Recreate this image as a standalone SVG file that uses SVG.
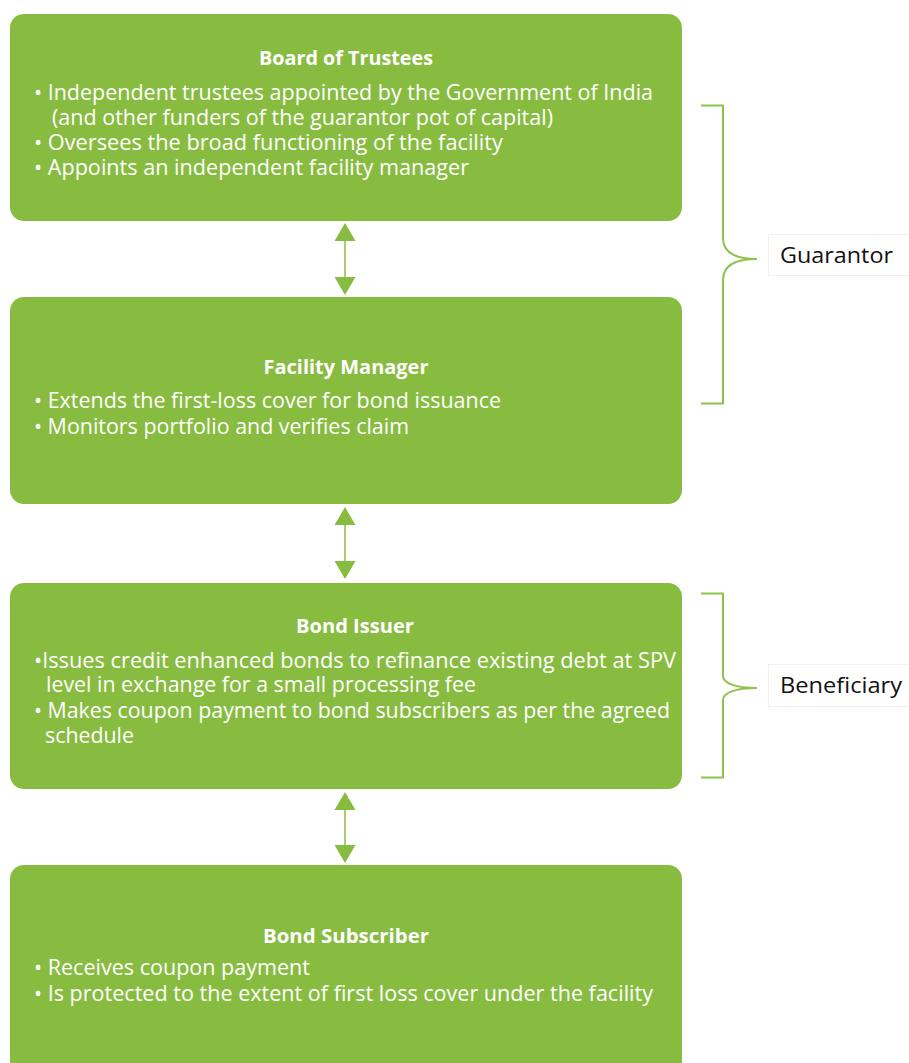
<svg xmlns="http://www.w3.org/2000/svg" width="909" height="1063" viewBox="0 0 909 1063">
<defs>
<style>
.box{fill:#88bc41}
.t{font-family:"Open Sans","Noto Sans",sans-serif;fill:#ffffff}
.ti{font-size:19px;font-weight:700;text-anchor:middle}
.b{font-size:22px}
#connectors line{stroke:#a3d06c;stroke-width:2}
.head{fill:#88bc41}
.br{fill:none;stroke:#8cc34a;stroke-width:2}
.lb{fill:#ffffff;stroke:#f0f0f0;stroke-width:1}
.lt{font-family:"Open Sans","Noto Sans",sans-serif;font-size:22px;fill:#111111}
</style>
</defs>
<rect width="909" height="1063" fill="#ffffff"/>

<g id="board">
<rect class="box" x="10" y="14" width="672" height="207" rx="14"/>
<text class="t ti" x="346" y="65" textLength="174" lengthAdjust="spacingAndGlyphs">Board of Trustees</text>
<text class="t b" x="34" y="100" textLength="619" lengthAdjust="spacingAndGlyphs">• Independent trustees appointed by the Government of India</text>
<text class="t b" x="52" y="125" textLength="501" lengthAdjust="spacingAndGlyphs">(and other funders of the guarantor pot of capital)</text>
<text class="t b" x="34" y="150" textLength="469" lengthAdjust="spacingAndGlyphs">• Oversees the broad functioning of the facility</text>
<text class="t b" x="34" y="175" textLength="435" lengthAdjust="spacingAndGlyphs">• Appoints an independent facility manager</text>
</g>

<g id="manager">
<rect class="box" x="10" y="297" width="672" height="207" rx="14"/>
<text class="t ti" x="346" y="374" textLength="165" lengthAdjust="spacingAndGlyphs">Facility Manager</text>
<text class="t b" x="34" y="408" textLength="467" lengthAdjust="spacingAndGlyphs">• Extends the first-loss cover for bond issuance</text>
<text class="t b" x="34" y="434" textLength="375" lengthAdjust="spacingAndGlyphs">• Monitors portfolio and verifies claim</text>
</g>

<g id="issuer">
<rect class="box" x="10" y="583" width="672" height="206" rx="14"/>
<text class="t ti" x="355" y="633" textLength="118" lengthAdjust="spacingAndGlyphs">Bond Issuer</text>
<text class="t b" x="34" y="668" textLength="642" lengthAdjust="spacingAndGlyphs">•Issues credit enhanced bonds to refinance existing debt at SPV</text>
<text class="t b" x="46" y="692" textLength="430" lengthAdjust="spacingAndGlyphs">level in exchange for a small processing fee</text>
<text class="t b" x="34" y="718" textLength="636" lengthAdjust="spacingAndGlyphs">• Makes coupon payment to bond subscribers as per the agreed</text>
<text class="t b" x="45" y="743" textLength="89" lengthAdjust="spacingAndGlyphs">schedule</text>
</g>

<g id="subscriber">
<rect class="box" x="10" y="865" width="672" height="210" rx="14"/>
<text class="t ti" x="346" y="943" textLength="166" lengthAdjust="spacingAndGlyphs">Bond Subscriber</text>
<text class="t b" x="34" y="975" textLength="276" lengthAdjust="spacingAndGlyphs">• Receives coupon payment</text>
<text class="t b" x="34" y="1001" textLength="619" lengthAdjust="spacingAndGlyphs">• Is protected to the extent of first loss cover under the facility</text>
</g>

<g id="connectors">
<line x1="345" y1="240" x2="345" y2="278"/>
<polygon class="head" points="345,223 355.5,241 334.5,241"/>
<polygon class="head" points="345,295 355.5,277 334.5,277"/>
<line x1="345" y1="524" x2="345" y2="562"/>
<polygon class="head" points="345,507 355.5,525 334.5,525"/>
<polygon class="head" points="345,579 355.5,561 334.5,561"/>
<line x1="345" y1="809" x2="345" y2="847"/>
<polygon class="head" points="345,792 355.5,810 334.5,810"/>
<polygon class="head" points="345,863 355.5,845 334.5,845"/>
</g>

<g id="guarantor">
<path class="br" d="M701,105.5 H723 V238 C723,252 735,259 757,259 C735,259 723,266 723,280 V403.5 H701"/>
<rect class="lb" x="768.5" y="234.5" width="145" height="41"/>
<text class="lt" x="780" y="263" textLength="113" lengthAdjust="spacingAndGlyphs">Guarantor</text>
</g>

<g id="beneficiary">
<path class="br" d="M701,593.5 H723 V676 C723,683 735,688 757,688 C735,688 723,693 723,700 V777.5 H701"/>
<rect class="lb" x="768.5" y="664.5" width="145" height="42"/>
<text class="lt" x="780" y="693" textLength="122" lengthAdjust="spacingAndGlyphs">Beneficiary</text>
</g>
</svg>
